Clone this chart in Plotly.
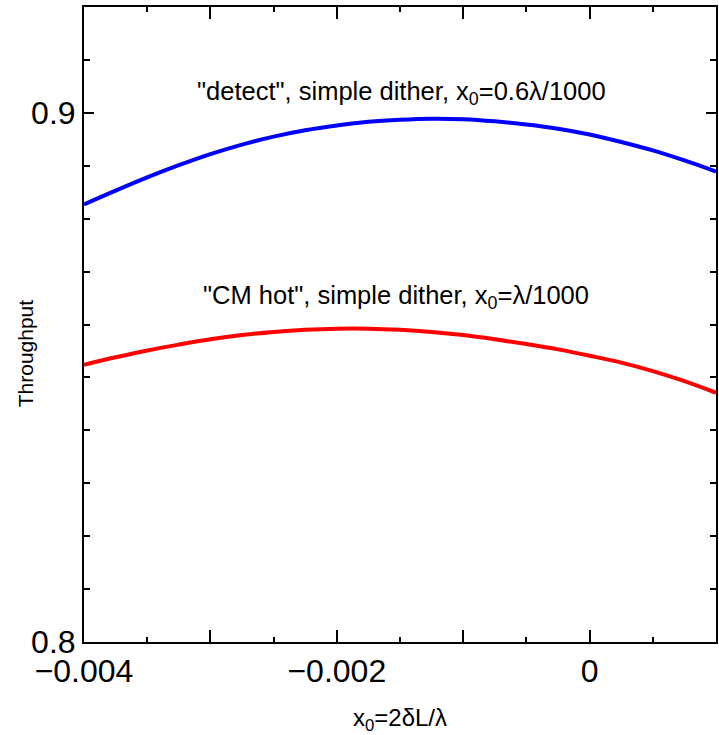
import plotly.graph_objects as go

# data
x_vals = [-0.004, -0.00375, -0.0035, -0.00325, -0.003, -0.00275, -0.0025, -0.00225, -0.002, -0.00175,
          -0.0015, -0.00125, -0.001, -0.00075, -0.0005, -0.00025, 0.0, 0.00025, 0.0005, 0.00075, 0.001]
detect_simple = [0.8827, 0.8853, 0.8878, 0.8901, 0.8922, 0.8940, 0.8955, 0.8967, 0.8976, 0.8983,
                 0.8987, 0.8989, 0.8988, 0.8984, 0.8978, 0.8970, 0.8959, 0.8945, 0.8929, 0.8910, 0.8889]
cmhot_simple = [0.8524, 0.8538, 0.8551, 0.8562, 0.8572, 0.8580, 0.8586, 0.8590, 0.8592, 0.8592,
                0.8590, 0.8586, 0.8580, 0.8572, 0.8563, 0.8553, 0.8541, 0.8528, 0.8512, 0.8493, 0.8471]

x_tickvals = [-0.004, -0.003, -0.002, -0.001, 0.0, 0.001]
x_ticktext = ["\u22120.004", "", "\u22120.002", "", "0", ""]
y_tickvals = [0.8, 0.9]
y_ticktext = ["0.8", "0.9"]

label_detect = '"detect", simple dither, x<sub>0</sub>=0.6\u03bb/1000'
label_cmhot = '"CM hot", simple dither, x<sub>0</sub>=\u03bb/1000'

FONT = "Liberation Sans, Arial, sans-serif"

fig = go.Figure()
fig.add_trace(go.Scatter(x=x_vals, y=detect_simple, mode="lines",
                         line=dict(color="#0000ff", width=4, shape="spline"),
                         showlegend=False, hoverinfo="skip"))
fig.add_trace(go.Scatter(x=x_vals, y=cmhot_simple, mode="lines",
                         line=dict(color="#ff0000", width=4, shape="spline"),
                         showlegend=False, hoverinfo="skip"))

fig.add_annotation(x=-0.001488, y=0.9038, xref="x", yref="y", text=label_detect,
                   showarrow=False, font=dict(family=FONT, size=25.5, color="black"),
                   xanchor="center", yanchor="middle")
fig.add_annotation(x=-0.001528, y=0.8652, xref="x", yref="y", text=label_cmhot,
                   showarrow=False, font=dict(family=FONT, size=25.5, color="black"),
                   xanchor="center", yanchor="middle")
fig.add_annotation(x=-0.093, y=0.455, xref="paper", yref="paper", text="Throughput",
                   textangle=-90, showarrow=False,
                   font=dict(family=FONT, size=21, color="black"),
                   xanchor="center", yanchor="middle")

fig.update_layout(
    width=719, height=735,
    margin=dict(l=84, r=1, t=7, b=93),
    paper_bgcolor="white", plot_bgcolor="white",
    font=dict(family=FONT, color="black"),
    showlegend=False,
)
fig.update_xaxes(
    range=[-0.004, 0.001],
    tickmode="array", tickvals=x_tickvals, ticktext=x_ticktext,
    ticks="inside", ticklen=12, tickwidth=1.5, tickcolor="black",
    minor=dict(tickmode="linear", tick0=-0.004, dtick=0.0005, ticks="inside", ticklen=5, tickwidth=1.5, tickcolor="black"),
    showline=True, linecolor="black", linewidth=2, mirror="ticks",
    showgrid=False, zeroline=False,
    tickfont=dict(family=FONT, size=32, color="black"),
    title=dict(text="x<sub>0</sub>=2\u03b4L/\u03bb", font=dict(family=FONT, size=24, color="black"), standoff=22),
)
fig.update_yaxes(
    range=[0.8, 0.92],
    tickmode="array", tickvals=y_tickvals, ticktext=y_ticktext,
    ticks="inside", ticklen=10, tickwidth=1.5, tickcolor="black",
    minor=dict(tickmode="linear", tick0=0.8, dtick=0.01, ticks="inside", ticklen=6, tickwidth=1.5, tickcolor="black"),
    showline=True, linecolor="black", linewidth=2, mirror="ticks",
    showgrid=False, zeroline=False,
    tickfont=dict(family=FONT, size=32, color="black"),
)

fig.write_html("out.html")
